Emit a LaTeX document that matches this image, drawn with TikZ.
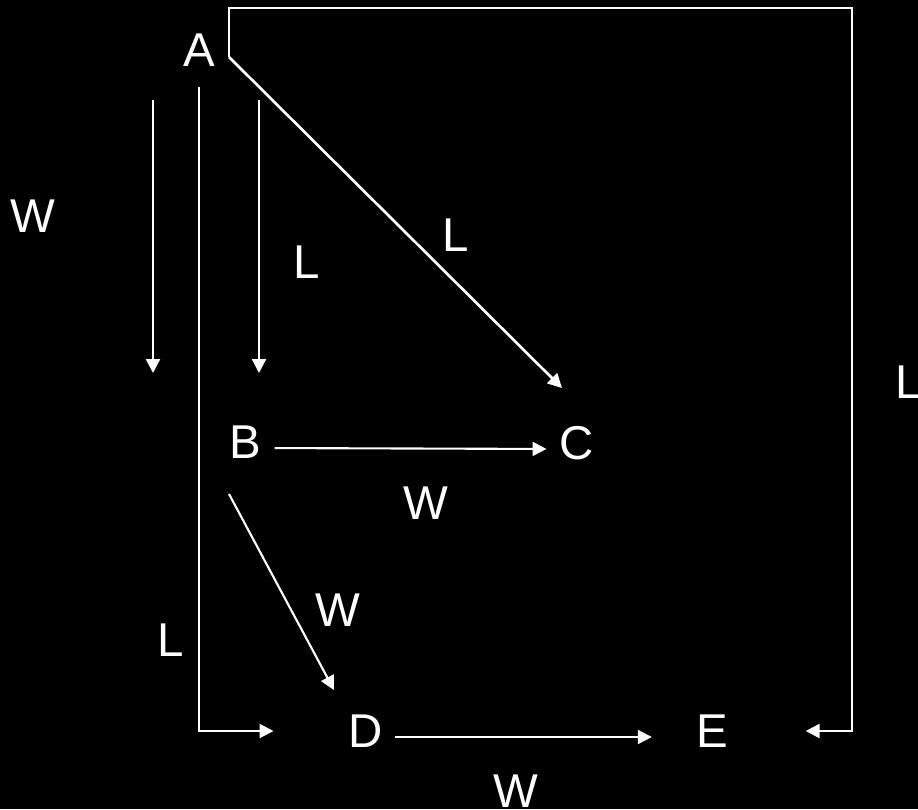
\documentclass[tikz,border=0pt]{standalone}
\usepackage{fontspec}
\setmainfont{Liberation Sans}
\usetikzlibrary{arrows.meta}
\definecolor{ink}{HTML}{FFFFFF}
\definecolor{board}{HTML}{000000}
\tikzset{
  vertex/.style={text=ink,inner sep=0pt,font=\fontsize{27}{32}\selectfont},
  weight/.style={text=ink,inner sep=0pt,font=\fontsize{27}{32}\selectfont},
  edgearrow/.style={-{Triangle[length=2.8mm,width=2.8mm]},line width=1.2pt,draw=ink},
  frameline/.style={edgearrow,line width=1.5pt}
}

\begin{document}
\begin{tikzpicture}[x=0.2mm,y=-0.2mm]
\fill[board] (0,0) rectangle (918,809);
\useasboundingbox (0,0) rectangle (918,809);
\node[vertex] (A) at (199,50) {A};
\node[vertex] (B) at (245,442) {B};
\node[vertex] (C) at (577,443) {C};
\node[vertex] (D) at (366,731) {D};
\node[vertex] (E) at (712,731) {E};
\node[weight] (wLeft) at (33,216) {W};
\node[weight] (lAB) at (307,262) {L};
\node[weight] (lAC) at (456,235) {L};
\node[weight] (lBox) at (909,382) {L};
\node[weight] (wBC) at (426,503) {W};
\node[weight] (wBD) at (338,610) {W};
\node[weight] (lAD) at (171,640) {L};
\node[weight] (wDE) at (516,791) {W};
\coordinate (aOut) at (229,57);
\coordinate (topRight) at (852,8);
\coordinate (cTip) at (562,388);
\coordinate (bOut) at (229,494);
\coordinate (dTip) at (334,690);
\coordinate (wTop) at (153,100);
\coordinate (wTip) at (153,373);
\coordinate (lTop) at (259,100);
\coordinate (lTip) at (259,373);
\draw[frameline,shorten >=15.5mm] (aOut) |- (topRight) |- (E);
\draw[frameline] (aOut) -- (cTip);
\draw[edgearrow] (wTop) -- (wTip);
\draw[edgearrow] (lTop) -- (lTip);
\draw[edgearrow,shorten <=4mm,shorten >=15mm] (A.south) |- (D.west);
\draw[edgearrow,shorten <=2.7mm,shorten >=2.6mm] ([yshift=-1.2mm]B.east) -- ([yshift=-1.2mm]C.west);
\draw[edgearrow] (bOut) -- (dTip);
\draw[edgearrow,shorten <=2.4mm,shorten >=8.8mm] ([yshift=-1.2mm]D.east) -- ([yshift=-1.2mm]E.west);
\end{tikzpicture}
\end{document}
